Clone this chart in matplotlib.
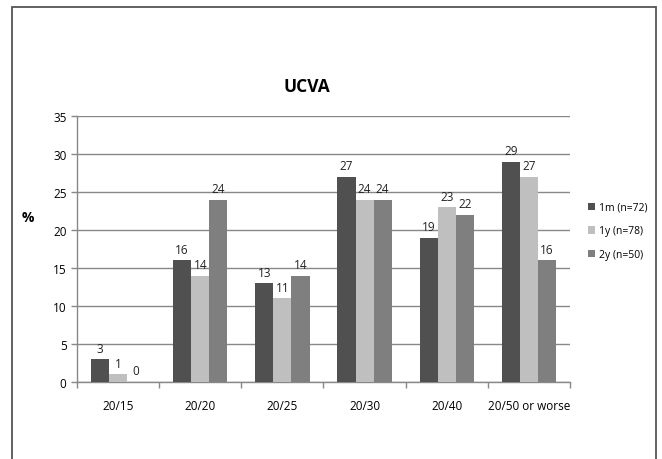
import matplotlib
matplotlib.use("Agg")
import matplotlib.pyplot as plt
from matplotlib.patches import Rectangle
import numpy as np

categories = ["20/15", "20/20", "20/25", "20/30", "20/40", "20/50 or worse"]
series_names = ["1m (n=72)", "1y (n=78)", "2y (n=50)"]
m1 = [3, 16, 13, 27, 19, 29]
y1 = [1, 14, 11, 24, 23, 27]
y2 = [0, 24, 14, 24, 22, 16]
colors = ["#505050", "#bfbfbf", "#7f7f7f"]

plt.rcParams['font.family'] = ['Open Sans', 'DejaVu Sans']

fig = plt.figure(figsize=(6.62, 4.6), dpi=100)
fig.patch.set_facecolor("white")
fig.add_artist(Rectangle((12/662, -0.1), (656-12)/662, 1.1 - 8/460, transform=fig.transFigure,
                         fill=False, edgecolor="#555555", linewidth=1.3))

ax = fig.add_axes([77/662, (460-383)/460, (570-77)/662, (383-117)/460])
x = np.arange(len(categories))
w = 0.22
for i, (vals, name) in enumerate(zip([m1, y1, y2], series_names)):
    pos = x + (i - 1) * w
    ax.bar(pos, vals, width=w, color=colors[i], label=name, zorder=3)
    for p, v in zip(pos, vals):
        ax.text(p, v + 0.6, str(v), ha="center", va="bottom", fontsize=8.5, color="#222222")

ax.set_xlim(-0.5, len(categories) - 0.5)
ax.set_ylim(0, 35)
ax.set_yticks(range(0, 36, 5))
ax.set_xticks(x)
ax.set_xticklabels(categories, fontsize=8.5)
ax.set_xticks(np.arange(-0.5, len(categories)), minor=True)
ax.tick_params(axis="x", which="major", length=0, pad=12)
ax.tick_params(axis="x", which="minor", length=4, color="#888888", width=1)
ax.tick_params(axis="y", length=4, color="#888888", width=1, labelsize=8.5)
ax.yaxis.grid(True, color="#888888", linewidth=1, zorder=0)
ax.set_axisbelow(True)
for s in ["top", "right"]:
    ax.spines[s].set_visible(False)
for s in ["left", "bottom"]:
    ax.spines[s].set_color("#888888")
    ax.spines[s].set_linewidth(1)

fig.text(307/662, 1 - 87/460, "UCVA", ha="center", va="center", fontsize=12.5, fontweight="bold")
fig.text(28/662, 1 - 218/460, "%", ha="center", va="center", fontsize=10, fontweight="bold")

ax.legend(loc="center left", bbox_to_anchor=(588/662, 1 - 232/460), bbox_transform=fig.transFigure,
          frameon=False, fontsize=7.5, handlelength=0.7, handleheight=0.7, labelspacing=1.2,
          handletextpad=0.4, borderpad=0, borderaxespad=0)

fig.savefig("out.png", dpi=100)
